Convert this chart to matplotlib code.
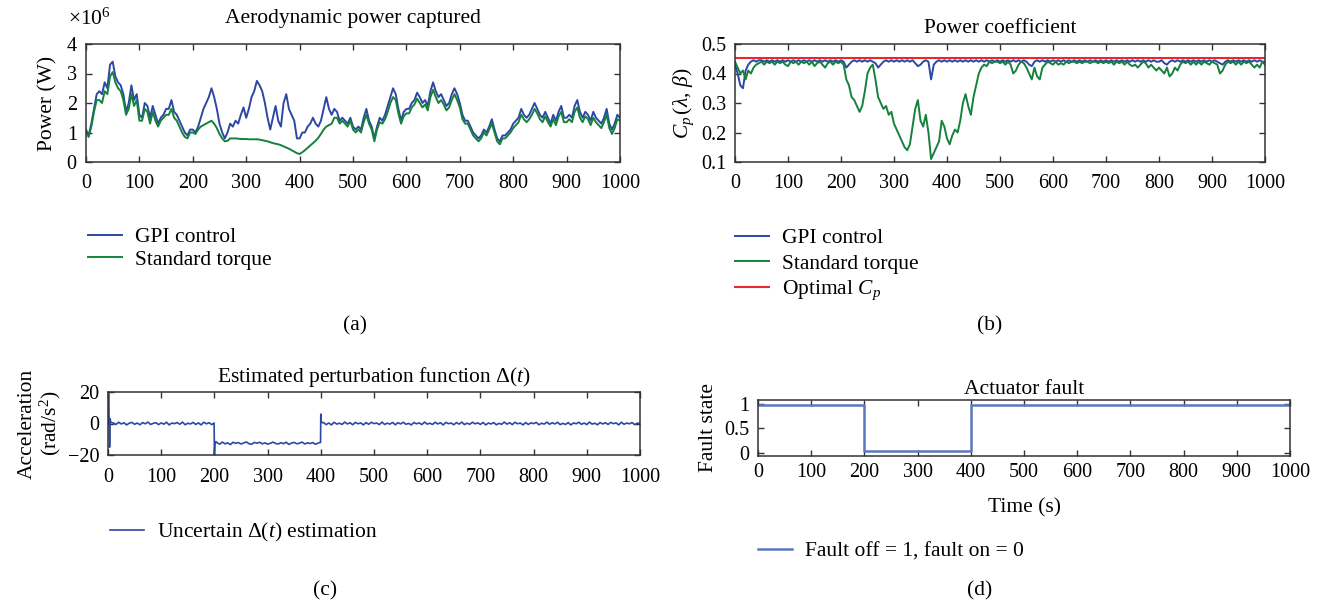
import numpy as np
import matplotlib
matplotlib.use("Agg")
import matplotlib.pyplot as plt

plt.rcParams['font.family'] = ['Liberation Serif', 'DejaVu Serif']
plt.rcParams['mathtext.fontset'] = 'custom'
plt.rcParams['mathtext.rm'] = 'Liberation Serif'
plt.rcParams['mathtext.it'] = 'Liberation Serif:italic'
plt.rcParams['mathtext.bf'] = 'Liberation Serif:bold'

# ---------------- data ----------------
# (a) aerodynamic power (x1e6 W), sampled every 5 s
power_gpi = [
    1.1, 0.9, 1.3, 1.8, 2.3, 2.4, 2.3, 2.7, 2.5, 3.3,
    3.4, 2.9, 2.7, 2.6, 2.3, 1.7, 2.0, 2.6, 2.1, 2.3,
    1.6, 1.5, 2.0, 1.9, 1.5, 1.9, 1.6, 1.3, 1.5, 1.6,
    1.8, 1.8, 2.1, 1.7, 1.6, 1.4, 1.2, 1.0, 0.9, 1.1,
    1.1, 1.0, 1.2, 1.5, 1.8, 2.0, 2.2, 2.5, 2.2, 1.8,
    1.3, 1.0, 0.8, 1.0, 1.3, 1.2, 1.4, 1.3, 1.6, 1.85,
    1.5, 1.8, 2.2, 2.4, 2.75, 2.6, 2.4, 2.0, 1.5, 1.1,
    1.5, 1.9, 1.4, 1.2, 2.0, 2.3, 1.8, 1.6, 1.4, 0.8,
    0.8, 1.0, 1.0, 1.2, 1.3, 1.5, 1.3, 1.2, 1.4, 1.8,
    2.2, 1.8, 1.6, 1.8, 1.7, 1.4, 1.5, 1.4, 1.3, 1.5,
    1.2, 1.1, 1.2, 1.1, 1.5, 1.8, 1.4, 1.2, 0.8, 1.2,
    1.5, 1.4, 1.6, 1.9, 2.2, 2.5, 2.3, 1.8, 1.4, 1.7,
    1.8, 1.8, 2.0, 2.1, 2.35, 2.2, 2.0, 2.1, 1.9, 2.4,
    2.7, 2.4, 2.2, 2.3, 2.1, 1.9, 2.0, 2.3, 2.5, 2.3,
    2.0, 1.6, 1.4, 1.4, 1.2, 1.0, 0.9, 0.8, 0.9, 1.1,
    1.0, 1.2, 1.45, 1.1, 0.8, 0.7, 0.9, 0.9, 1.0, 1.1,
    1.3, 1.4, 1.5, 1.8, 1.6, 1.5, 1.6, 1.8, 2.0, 1.8,
    1.6, 1.5, 1.7, 1.5, 1.3, 1.6, 1.4, 1.7, 1.9, 1.5,
    1.5, 1.6, 1.5, 1.9, 2.1, 1.7, 1.5, 1.7, 1.6, 1.4,
    1.7, 1.5, 1.4, 1.3, 1.5, 1.8, 1.3, 1.1, 1.3, 1.6,
    1.5,
]
power_std = [
    1.0, 0.85, 1.2, 1.7, 2.1, 2.1, 2.0, 2.4, 2.3, 2.9,
    3.05, 2.7, 2.5, 2.4, 2.1, 1.6, 1.8, 2.3, 1.9, 2.1,
    1.4, 1.4, 1.8, 1.7, 1.3, 1.7, 1.4, 1.2, 1.4, 1.5,
    1.6, 1.6, 1.8, 1.5, 1.4, 1.2, 1.0, 0.85, 0.8, 1.0,
    1.0, 0.95, 1.1, 1.2, 1.25, 1.3, 1.35, 1.4, 1.3, 1.15,
    0.95, 0.8, 0.7, 0.72, 0.8, 0.8, 0.8, 0.79, 0.78, 0.78,
    0.78, 0.77, 0.77, 0.77, 0.77, 0.76, 0.74, 0.72, 0.70, 0.67,
    0.64, 0.62, 0.60, 0.57, 0.53, 0.49, 0.45, 0.40, 0.35, 0.30,
    0.27, 0.33, 0.40, 0.48, 0.56, 0.64, 0.72, 0.82, 0.95, 1.1,
    1.2, 1.25, 1.3, 1.5, 1.5, 1.3, 1.4, 1.3, 1.2, 1.4,
    1.1, 1.0, 1.1, 1.0, 1.35, 1.6, 1.3, 1.1, 0.7, 1.1,
    1.35, 1.3, 1.45, 1.7, 2.0, 2.2, 2.1, 1.65, 1.3, 1.55,
    1.65, 1.65, 1.85, 1.95, 2.15, 2.0, 1.85, 1.95, 1.75, 2.2,
    2.45, 2.2, 2.0, 2.1, 1.95, 1.75, 1.85, 2.1, 2.3, 2.1,
    1.85, 1.45, 1.3, 1.3, 1.1, 0.9, 0.8, 0.7, 0.8, 1.0,
    0.9, 1.1, 1.3, 1.0, 0.7, 0.6, 0.8, 0.8, 0.9, 1.0,
    1.15, 1.25, 1.35, 1.6, 1.45, 1.35, 1.45, 1.6, 1.8, 1.65,
    1.45, 1.35, 1.55, 1.35, 1.2, 1.45, 1.25, 1.55, 1.7, 1.35,
    1.35, 1.45, 1.35, 1.7, 1.85, 1.5, 1.35, 1.55, 1.45, 1.25,
    1.5, 1.35, 1.25, 1.15, 1.35, 1.6, 1.15, 0.95, 1.15, 1.45,
    1.4,
]

# (b) power coefficient, sampled every 5 s
cp_gpi = [
    0.43, 0.40, 0.36, 0.35, 0.41, 0.43, 0.44, 0.445, 0.44, 0.445,
    0.445, 0.44, 0.445, 0.44, 0.445, 0.44, 0.445, 0.44, 0.445, 0.44,
    0.445, 0.44, 0.445, 0.44, 0.445, 0.44, 0.445, 0.44, 0.445, 0.44,
    0.445, 0.44, 0.445, 0.44, 0.445, 0.44, 0.445, 0.44, 0.445, 0.44,
    0.445, 0.44, 0.42, 0.43, 0.44, 0.445, 0.44, 0.445, 0.44, 0.445,
    0.44, 0.445, 0.44, 0.435, 0.42, 0.43, 0.44, 0.445, 0.44, 0.445,
    0.44, 0.445, 0.44, 0.445, 0.44, 0.445, 0.44, 0.445, 0.435, 0.425,
    0.43, 0.44, 0.445, 0.44, 0.38, 0.43, 0.44, 0.445, 0.44, 0.445,
    0.44, 0.445, 0.44, 0.445, 0.44, 0.445, 0.44, 0.445, 0.44, 0.445,
    0.44, 0.445, 0.44, 0.445, 0.44, 0.445, 0.44, 0.445, 0.44, 0.445,
    0.44, 0.445, 0.44, 0.445, 0.44, 0.445, 0.44, 0.445, 0.44, 0.445,
    0.44, 0.43, 0.425, 0.44, 0.445, 0.44, 0.445, 0.44, 0.445, 0.44,
    0.445, 0.44, 0.445, 0.44, 0.445, 0.44, 0.445, 0.44, 0.445, 0.44,
    0.445, 0.44, 0.445, 0.44, 0.445, 0.44, 0.445, 0.44, 0.445, 0.44,
    0.445, 0.44, 0.445, 0.44, 0.445, 0.44, 0.445, 0.44, 0.445, 0.44,
    0.445, 0.44, 0.445, 0.44, 0.445, 0.44, 0.445, 0.44, 0.445, 0.44,
    0.44, 0.445, 0.435, 0.43, 0.44, 0.445, 0.44, 0.445, 0.44, 0.445,
    0.44, 0.445, 0.44, 0.445, 0.44, 0.445, 0.44, 0.445, 0.44, 0.445,
    0.44, 0.445, 0.44, 0.435, 0.43, 0.44, 0.445, 0.44, 0.445, 0.44,
    0.445, 0.44, 0.445, 0.44, 0.445, 0.44, 0.445, 0.44, 0.445, 0.44,
    0.44,
]
cp_std = [
    0.44, 0.42, 0.40, 0.41, 0.38, 0.41, 0.40, 0.42, 0.43, 0.435,
    0.44, 0.43, 0.44, 0.435, 0.44, 0.43, 0.44, 0.435, 0.44, 0.43,
    0.425, 0.44, 0.435, 0.44, 0.43, 0.44, 0.435, 0.44, 0.43, 0.44,
    0.425, 0.435, 0.44, 0.43, 0.42, 0.435, 0.44, 0.43, 0.44, 0.435,
    0.44, 0.43, 0.38, 0.36, 0.32, 0.31, 0.29, 0.27, 0.29, 0.34,
    0.40, 0.42, 0.43, 0.38, 0.32, 0.30, 0.28, 0.29, 0.26, 0.27,
    0.23, 0.21, 0.19, 0.17, 0.15, 0.14, 0.16, 0.22, 0.28, 0.31,
    0.24, 0.22, 0.26, 0.20, 0.11, 0.13, 0.15, 0.17, 0.24, 0.22,
    0.18, 0.16, 0.19, 0.21, 0.20, 0.24, 0.30, 0.33, 0.29, 0.26,
    0.32, 0.36, 0.40, 0.42, 0.43, 0.425, 0.44, 0.435, 0.44, 0.44,
    0.435, 0.44, 0.43, 0.44, 0.43, 0.40, 0.41, 0.43, 0.44, 0.435,
    0.42, 0.40, 0.38, 0.42, 0.39, 0.38, 0.42, 0.43, 0.44, 0.435,
    0.43, 0.44, 0.43, 0.435, 0.43, 0.44, 0.435, 0.44, 0.44, 0.435,
    0.44, 0.435, 0.44, 0.44, 0.435, 0.44, 0.44, 0.435, 0.44, 0.435,
    0.44, 0.435, 0.44, 0.43, 0.44, 0.435, 0.44, 0.43, 0.44, 0.43,
    0.425, 0.43, 0.42, 0.43, 0.44, 0.435, 0.42, 0.43, 0.42, 0.41,
    0.42, 0.41, 0.40, 0.42, 0.39, 0.40, 0.42, 0.41, 0.43, 0.44,
    0.435, 0.44, 0.43, 0.44, 0.43, 0.44, 0.43, 0.44, 0.435, 0.43,
    0.44, 0.435, 0.43, 0.40, 0.41, 0.43, 0.44, 0.435, 0.44, 0.43,
    0.44, 0.43, 0.44, 0.435, 0.44, 0.43, 0.42, 0.43, 0.42, 0.44,
    0.43,
]
cp_optimal = 0.454

# (c) estimated perturbation Delta(t)
delta_t = ([0, 1, 2, 3, 4, 5, 7] + list(range(10, 200, 5)) + [199.5, 200, 201, 203]
           + list(range(205, 400, 5)) + [399.5, 400, 401, 403] + list(range(405, 1001, 5)))
delta_v = ([0, 20, 5, -15, 3, 1, 0.5]
           + [0.4, -0.6, 0.8, -0.3, 0.5, -0.9, 0.2, 0.7, -0.5, 0.3,
              -0.8, 0.6, -0.2, 0.9, -0.6, 0.1, 0.5, -0.7, 0.4, -0.4,
              0.8, -0.9, 0.3, -0.1, 0.6, -0.5, 0.9, -0.8, 0.2, -0.3,
              0.7, -0.6, 0.4, -0.9, 0.8, -0.2, 0.5, -0.7]
           + [0.3, -20, -13, -11.5]
           + [-12.2, -13.1, -11.8, -12.9, -12.3, -13.4, -11.9, -12.6, -12.1, -13.0,
              -12.4, -11.7, -12.8, -13.2, -12.0, -12.5, -11.9, -12.9, -12.3, -13.1,
              -12.6, -11.8, -12.7, -13.0, -12.2, -12.8, -11.9, -13.3, -12.4, -12.0,
              -12.9, -12.5, -11.8, -13.0, -12.3, -12.7, -12.1, -13.2, -12.4]
           + [-12.0, 6, 1, 0.5]
           + [0.6, -0.7, 0.3, -0.9, 0.8, -0.4, 0.2, -0.6, 0.9, -0.3,
              0.5, -0.8, 0.7, -0.2, 0.4, -0.9, 0.6, -0.5, 0.8, -0.1,
              0.3, -0.7, 0.9, -0.6, 0.2, -0.4, 0.7, -0.8, 0.5, -0.3,
              0.8, -0.5, 0.1, -0.9, 0.6, -0.2, 0.4, -0.7, 0.9, -0.4,
              0.2, -0.6, 0.8, -0.3, 0.5, -0.9, 0.7, -0.1, 0.3, -0.8,
              0.6, -0.4, 0.9, -0.7, 0.2, -0.5, 0.8, -0.2, 0.4, -0.6,
              0.7, -0.9, 0.3, -0.3, 0.6, -0.8, 0.1, -0.5, 0.9, -0.4,
              0.5, -0.7, 0.8, -0.2, 0.3, -0.9, 0.6, -0.6, 0.4, -0.1,
              0.7, -0.8, 0.2, -0.4, 0.9, -0.5, 0.5, -0.3, 0.8, -0.7,
              0.1, -0.6, 0.6, -0.9, 0.4, -0.2, 0.8, -0.5, 0.3, -0.7,
              0.9, -0.4, 0.2, -0.8, 0.6, -0.3, 0.5, -0.6, 0.7, -0.1,
              0.4, -0.9, 0.8, -0.5, 0.3, -0.2, 0.6, -0.7, 0.2, 0.1])

# (d) actuator fault state
fault_t = [0, 200, 200, 400, 400, 1000]
fault_v = [0.97, 0.97, 0.03, 0.03, 0.97, 0.97]

x_ticks = [0, 100, 200, 300, 400, 500, 600, 700, 800, 900, 1000]

# ---------------- style ----------------
BLUE = '#2d48a3'
GREEN = '#14813c'
RED = '#e8282b'
LIGHTBLUE = '#5a78c0'
FS = 15.5      # titles, labels, legends
TFS = 14.5     # tick labels

W, H = 1323, 608
fig = plt.figure(figsize=(W / 100, H / 100), dpi=100)


def box(l, t, r, b):
    return [l / W, 1 - b / H, (r - l) / W, (b - t) / H]


def style(ax, xpad=9):
    ax.set_xlim(0, 1000)
    ax.set_xticks(x_ticks)
    ax.tick_params(direction='in', top=True, right=True, labelsize=TFS,
                   length=4, width=1.0, color='#333333')
    ax.tick_params(axis='x', pad=xpad)
    ax.tick_params(axis='y', pad=6)
    for s in ax.spines.values():
        s.set_linewidth(1.1)
        s.set_color('#333333')


def legend(ax, x, y, spacing=0.12):
    ax.legend(loc='upper left', bbox_to_anchor=(x / W, 1 - y / H),
              bbox_transform=fig.transFigure, frameon=False, fontsize=FS,
              handlelength=1.6, handletextpad=0.6, labelspacing=spacing,
              borderaxespad=0, borderpad=0)


# (a)
ax1 = fig.add_axes(box(86, 44, 620, 162))
t5 = np.linspace(0, 1000, len(power_gpi))
ax1.plot(t5, np.array(power_gpi) * 1e6, color=BLUE, lw=1.4, label='GPI control')
ax1.plot(t5, np.array(power_std) * 1e6, color=GREEN, lw=1.4, label='Standard torque')
style(ax1)
ax1.set_ylim(0, 4e6)
ax1.set_yticks([0, 1e6, 2e6, 3e6, 4e6])
ax1.ticklabel_format(axis='y', style='sci', scilimits=(6, 6), useMathText=True)
ax1.yaxis.get_offset_text().set_visible(False)
fig.text(68 / W, 1 - 19 / H, r'$\times10^{6}$', ha='left', va='center', fontsize=FS)
ax1.set_ylabel('Power (W)', fontsize=FS, labelpad=6)
ax1.set_title('Aerodynamic power captured', fontsize=FS, pad=15)
legend(ax1, 88, 227)
fig.text(355 / W, 1 - 326 / H, '(a)', ha='center', va='center', fontsize=FS)

# (b)
ax2 = fig.add_axes(box(735, 44, 1265, 162))
tb = np.linspace(0, 1000, len(cp_gpi))
ax2.plot(tb, cp_gpi, color=BLUE, lw=1.4, label='GPI control')
ax2.plot(tb, cp_std, color=GREEN, lw=1.4, label='Standard torque')
ax2.plot([0, 1000], [cp_optimal, cp_optimal], color=RED, lw=1.5, label='Optimal $C_p$')
style(ax2)
ax2.set_ylim(0.1, 0.5)
ax2.set_yticks([0.1, 0.2, 0.3, 0.4, 0.5])
ax2.set_ylabel(r'$C_p\,(\lambda,\,\beta)$', fontsize=FS, labelpad=4)
ax2.set_title('Power coefficient', fontsize=FS, pad=8)
legend(ax2, 735, 228, spacing=0.25)
fig.text(990 / W, 1 - 326 / H, '(b)', ha='center', va='center', fontsize=FS)

# (c)
ax3 = fig.add_axes(box(108, 392, 640, 455))
ax3.plot(delta_t, delta_v, color=BLUE, lw=1.2, label=r'Uncertain $\Delta(t)$ estimation')
style(ax3)
ax3.set_ylim(-20, 20)
ax3.set_yticks([-20, 0, 20])
ax3.set_yticklabels(['\u221220', '0', '20'])
ax3.set_ylabel('Acceleration\n(rad/s$^2$)', fontsize=FS, linespacing=1.05, labelpad=4)
ax3.set_title(r'Estimated perturbation function $\Delta(t)$', fontsize=FS, pad=7)
legend(ax3, 110, 521)
fig.text(325 / W, 1 - 591 / H, '(c)', ha='center', va='center', fontsize=FS)

# (d)
ax4 = fig.add_axes(box(758, 400, 1290, 456))
ax4.plot(fault_t, fault_v, color=LIGHTBLUE, lw=1.8, label='Fault off = 1, fault on = 0')
style(ax4, xpad=5)
ax4.set_ylim(-0.07, 1.08)
ax4.set_yticks([0, 0.5, 1])
ax4.set_yticklabels(['0', '0.5', '1'])
ax4.set_ylabel('Fault state', fontsize=FS, labelpad=5)
ax4.set_xlabel('Time (s)', fontsize=FS, labelpad=12)
ax4.set_title('Actuator fault', fontsize=FS, pad=4)
legend(ax4, 758, 541)
fig.text(980 / W, 1 - 591 / H, '(d)', ha='center', va='center', fontsize=FS)

fig.savefig('out.png', dpi=100)
